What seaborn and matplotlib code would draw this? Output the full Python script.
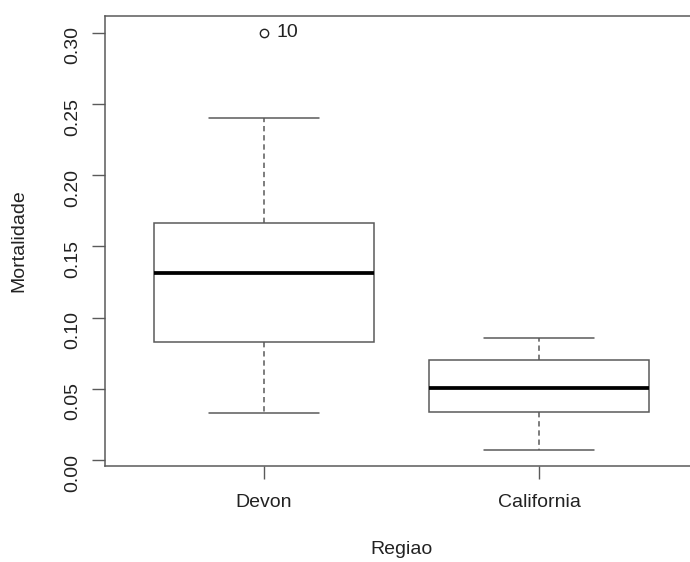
import matplotlib
matplotlib.use("Agg")
import matplotlib.pyplot as plt
import seaborn as sns
import pandas as pd

# ---- data ----
regioes = ["Devon", "California"]
devon = [0.0333, 0.060, 0.0831, 0.110, 0.1316, 0.150, 0.1667, 0.2401, 0.300]
california = [0.0070, 0.020, 0.0335, 0.042, 0.0504, 0.060, 0.0703, 0.078, 0.0855]
outlier_labels = ["10"]
yticks = [0.00, 0.05, 0.10, 0.15, 0.20, 0.25, 0.30]

df = pd.DataFrame({
    "Regiao": [regioes[0]] * len(devon) + [regioes[1]] * len(california),
    "Mortalidade": devon + california,
})

sns.set_theme(style="white")
plt.rcParams["font.family"] = ["Liberation Sans", "DejaVu Sans"]

line_c = "#5a5a5a"
text_c = "#222222"

fig = plt.figure(figsize=(6.9, 5.62), dpi=100)
ax = fig.add_axes([104.5 / 690, 96 / 562, 594 / 690, 450 / 562])

sns.boxplot(
    data=df, x="Regiao", y="Mortalidade", order=regioes, ax=ax,
    color="white", saturation=1, width=0.8, whis=1.5,
    linecolor=line_c, linewidth=1.1,
    capwidths=0.4,
    whiskerprops={"linestyle": (0, (3.5, 2.5)), "color": line_c},
    capprops={"color": line_c},
    boxprops={"edgecolor": line_c, "facecolor": "white"},
    medianprops={"color": "black", "linewidth": 2.7},
    flierprops={"marker": "o", "markersize": 6, "markerfacecolor": "none",
                "markeredgecolor": "#222222", "markeredgewidth": 1.0},
)

# outlier label
ax.text(0.047, max(devon), outlier_labels[0], ha="left", va="center",
        fontsize=14, color=text_c)

ax.set_xlim(-0.58, 1.58)
ax.set_ylim(-0.0042, 0.3119)
ax.set_yticks(yticks)
ax.set_yticklabels([f"{v:.2f}" for v in yticks])

for s in ax.spines.values():
    s.set_visible(True)
    s.set_color(line_c)
    s.set_linewidth(1.1)
ax.spines["right"].set_visible(False)

ax.tick_params(axis="both", direction="out", length=9.4, width=1.0,
               color=line_c, labelcolor=text_c, labelsize=14)
ax.tick_params(axis="y", labelrotation=90, pad=7)
ax.tick_params(axis="x", pad=11)
ax.tick_params(left=True, bottom=True)

ax.set_xlabel("Regiao", fontsize=14, color=text_c)
ax.set_ylabel("Mortalidade", fontsize=14, color=text_c)
ax.xaxis.label.set_verticalalignment("center")
ax.yaxis.label.set_verticalalignment("center")
ax.xaxis.set_label_coords(0.5, (466 - 549) / 450)
ax.yaxis.set_label_coords((19 - 104.5) / 594, 0.5)

fig.savefig("out.png", dpi=100, facecolor="white")
